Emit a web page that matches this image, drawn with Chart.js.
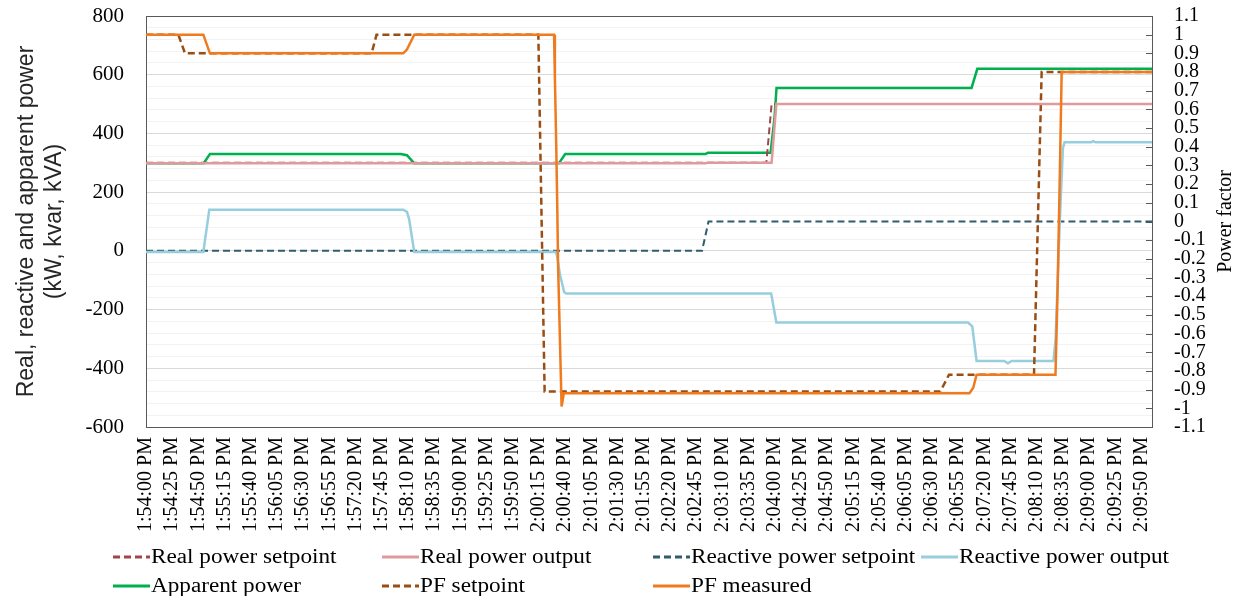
<!DOCTYPE html>
<html>
<head>
<meta charset="utf-8">
<script src="https://cdn.jsdelivr.net/npm/chart.js@4.4.1/dist/chart.umd.min.js"></script>
<style>
  html, body { margin: 0; padding: 0; background: #fff; }
  #wrap { width: 1236px; height: 596px; position: relative; }
</style>
</head>
<body>
<div id="wrap"><canvas id="chart"></canvas></div>
<script>
// time axis: seconds after 1:54:00 PM, one label every 25 s
const timeLabels = [
  "1:54:00 PM", "1:54:25 PM", "1:54:50 PM", "1:55:15 PM", "1:55:40 PM", "1:56:05 PM",
  "1:56:30 PM", "1:56:55 PM", "1:57:20 PM", "1:57:45 PM", "1:58:10 PM", "1:58:35 PM",
  "1:59:00 PM", "1:59:25 PM", "1:59:50 PM", "2:00:15 PM", "2:00:40 PM", "2:01:05 PM",
  "2:01:30 PM", "2:01:55 PM", "2:02:20 PM", "2:02:45 PM", "2:03:10 PM", "2:03:35 PM",
  "2:04:00 PM", "2:04:25 PM", "2:04:50 PM", "2:05:15 PM", "2:05:40 PM", "2:06:05 PM",
  "2:06:30 PM", "2:06:55 PM", "2:07:20 PM", "2:07:45 PM", "2:08:10 PM", "2:08:35 PM",
  "2:09:00 PM", "2:09:25 PM", "2:09:50 PM"
];

//Real power setpoint (kW)
const realSetT = [0, 592, 597, 960];
const realSetV = [300, 300, 500, 500];
//Real power output (kW)
const realOutT = [0, 534, 536, 597, 601.5, 960];
const realOutV = [298, 298, 300, 300, 500, 500];
//Reactive power setpoint (kvar)
const reactSetT = [0, 530.6, 536.8, 960];
const reactSetV = [0, 0, 100, 100];
//Reactive power output (kvar)
const reactOutT = [0, 54.7, 60.4, 245.5, 249, 251, 256, 390.5, 392, 395, 399, 401,
  596.6, 601.5, 784.4, 788.5, 792.6, 819, 822.5, 826, 866, 868, 872, 875, 876.5, 902, 904, 906, 960];
const reactOutV = [-4, -4, 140, 140, 133, 110, -4, -4, -12, -80, -140, -145,
  -145, -244, -244, -257, -375, -375, -383, -375, -375, -300, 100, 350, 370, 370, 374, 370, 370];
//Apparent power (kVA)
const appT = [0, 55, 61, 243, 249, 256, 394, 400, 534, 536, 596, 599.7, 601.7, 787.8, 793.3, 960];
const appV = [298, 298, 330, 330, 326, 298, 298, 330, 330, 334, 334, 450, 555, 555, 620, 620];
//PF setpoint
const pfSetT = [0, 30.9, 37.2, 215.3, 220, 374.4, 380.4, 758, 766.3, 847.4, 854.7, 960];
const pfSetV = [1, 1, 0.9, 0.9, 1, 1, -0.91, -0.91, -0.82, -0.82, 0.8, 0.8];
//PF measured
const pfMeasT = [0, 54.7, 61, 245.5, 249, 256, 389.4, 390.2, 391.4, 392.4, 393.3, 396.6, 398.7,
  785.8, 789.4, 792.6, 867.9, 869.9, 871.8, 873.8, 960];
const pfMeasV = [1, 1, 0.9, 0.9, 0.92, 1, 1, 0.77, 0.43, 0.1, -0.25, -0.99, -0.92,
  -0.92, -0.89, -0.82, -0.82, -0.37, 0.18, 0.8, 0.8];

const pts = (t, v) => t.map((x, i) => ({ x: x, y: v[i] }));

const serif = "'Liberation Serif', 'Times New Roman', serif";
const sans = "'Liberation Sans', Arial, sans-serif";
const dash = [7, 4];

//Box around plot, inner ticks on right axis, right title, legend
const extras = {
  id: "extras",
  beforeDatasetsDraw(chart) {
    const { ctx, chartArea: a } = chart;
    ctx.save();
    ctx.strokeStyle = "#595959";
    ctx.lineWidth = 1;
    ctx.strokeRect(Math.round(a.left) + 0.5, Math.round(a.top) + 0.5,
      Math.round(a.right - a.left), Math.round(a.bottom - a.top));
    const y1 = chart.scales.y1;
    ctx.beginPath();
    y1.ticks.forEach((t) => {
      const y = Math.round(y1.getPixelForValue(t.value)) + 0.5;
      ctx.moveTo(a.right - 6, y);
      ctx.lineTo(a.right, y);
    });
    ctx.stroke();
    ctx.restore();
  },
  afterDraw(chart) {
    const { ctx, chartArea: a } = chart;
    ctx.save();
    //right axis title
    ctx.translate(1226, (a.top + a.bottom) / 2);
    ctx.rotate(-Math.PI / 2);
    ctx.font = "20px " + serif;
    ctx.fillStyle = "#000";
    ctx.textAlign = "center";
    ctx.textBaseline = "middle";
    ctx.fillText("Power factor", 0, 0);
    ctx.restore();

    //legend, 4 columns x 2 rows (text is a bit wide in the original)
    const cols = [113, 382, 653, 921];
    const rows = [557, 586];
    ctx.save();
    ctx.font = "20px " + serif;
    ctx.textBaseline = "middle";
    ctx.fillStyle = "#000";
    chart.data.datasets.forEach((ds, i) => {
      const x = cols[i % 4];
      const y = rows[Math.floor(i / 4)];
      ctx.beginPath();
      ctx.strokeStyle = ds.borderColor;
      ctx.lineWidth = 3;
      ctx.setLineDash(ds.borderDash || []);
      ctx.moveTo(x, y);
      ctx.lineTo(x + 37, y);
      ctx.stroke();
      ctx.setLineDash([]);
      ctx.save();
      ctx.translate(x + 38, y + 1);
      ctx.scale(1.16, 1);
      ctx.fillText(ds.label, 0, 0);
      ctx.restore();
    });
    ctx.restore();
  },
};

const noPad = (width) => (scale) => {
  scale.width = width;
  scale.paddingTop = 16;
  scale.paddingBottom = 0;
};

new Chart(document.getElementById("chart"), {
  type: "line",
  plugins: [extras],
  data: {
    datasets: [
      { label: "Real power setpoint", data: pts(realSetT, realSetV), borderColor: "#A0464B",
        borderDash: dash, borderWidth: 2, yAxisID: "y", order: 2 },
      { label: "Real power output", data: pts(realOutT, realOutV), borderColor: "#E09A9B",
        borderWidth: 2.5, yAxisID: "y", order: 1 },
      { label: "Reactive power setpoint", data: pts(reactSetT, reactSetV), borderColor: "#2F5D6C",
        borderDash: dash, borderWidth: 2, yAxisID: "y", order: 6 },
      { label: "Reactive power output", data: pts(reactOutT, reactOutV), borderColor: "#96CEDE",
        borderWidth: 2.5, yAxisID: "y", order: 5 },
      { label: "Apparent power", data: pts(appT, appV), borderColor: "#00B050",
        borderWidth: 2.5, yAxisID: "y", order: 3 },
      { label: "PF setpoint", data: pts(pfSetT, pfSetV), borderColor: "#9A4E13",
        borderDash: dash, borderWidth: 2.5, yAxisID: "y1", order: 4 },
      { label: "PF measured", data: pts(pfMeasT, pfMeasV), borderColor: "#F07A1E",
        borderWidth: 2.5, yAxisID: "y1", order: 0 },
    ],
  },
  options: {
    responsive: true,
    maintainAspectRatio: false,
    animation: false,
    events: [],
    layout: { padding: 0 },
    elements: { point: { radius: 0 }, line: { tension: 0, fill: false } },
    plugins: { legend: { display: false }, tooltip: { enabled: false } },
    scales: {
      x: {
        type: "linear",
        min: 0,
        max: 960,
        afterBuildTicks: (scale) => {
          scale.ticks = timeLabels.map((_, i) => ({ value: i * 25 }));
        },
        afterFit: (scale) => {
          scale.height = 169;
          scale.paddingLeft = 0;
          scale.paddingRight = 0;
        },
        grid: { display: false, drawTicks: false },
        border: { display: false },
        ticks: {
          autoSkip: false,
          maxRotation: 90,
          minRotation: 90,
          padding: 10,
          color: "#000",
          font: { family: serif, size: 20 },
          callback: (v, i) => timeLabels[i],
        },
      },
      y: {
        position: "left",
        min: -600,
        max: 800,
        afterFit: noPad(146),
        border: { display: false },
        grid: {
          drawTicks: false,
          color: (c) => (c.tick && Math.round(c.tick.value) % 200 === 0 ? "#d9d9d9" : "#f2f2f2"),
        },
        ticks: {
          stepSize: 40,
          autoSkip: false,
          padding: 22,
          color: "#000",
          font: { family: serif, size: 21 },
          callback: (v) => (Math.round(v) % 200 === 0 ? String(Math.round(v)) : ""),
        },
        title: {
          display: true,
          text: ["Real, reactive and apparent power", "(kW, kvar, kVA)"],
          color: "#262626",
          font: { family: sans, size: 23, lineHeight: 1.24 },
          padding: { top: 12, bottom: 0 },
        },
      },
      y1: {
        position: "right",
        min: -1.1,
        max: 1.1,
        afterFit: noPad(84),
        border: { display: false },
        grid: { drawOnChartArea: false, drawTicks: false },
        ticks: {
          stepSize: 0.1,
          autoSkip: false,
          padding: 22,
          color: "#000",
          font: { family: serif, size: 20 },
          callback: (v) => String(Math.round(v * 10) / 10),
        },
      },
    },
  },
});
</script>
</body>
</html>
